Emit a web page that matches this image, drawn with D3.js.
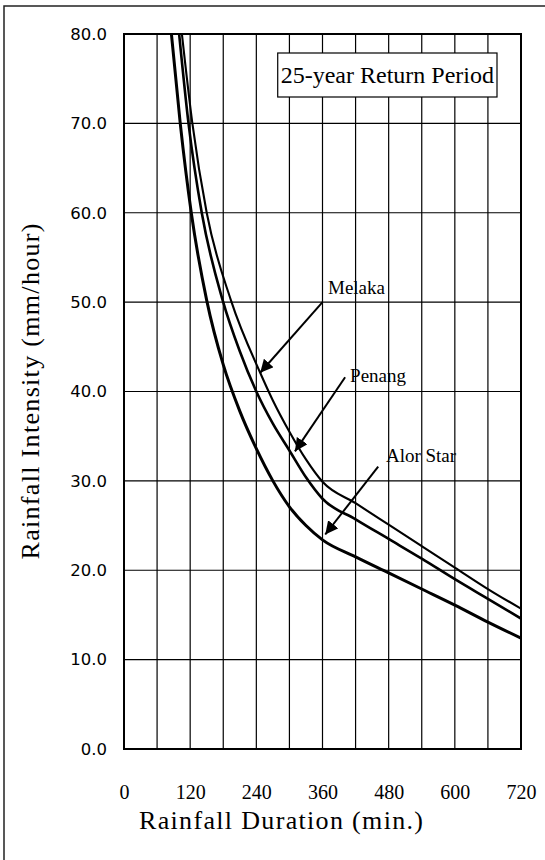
<!DOCTYPE html>
<html>
<head>
<meta charset="utf-8">
<script src="https://cdn.jsdelivr.net/npm/d3@7"></script>
<style>
  body { margin: 0; background: #fff; }
  text { fill: #000; }
</style>
</head>
<body>
<div id="chart"></div>
<script>
// values (duration in min, intensity in mm/hour)
var alorStarT = [86, 102, 122, 150, 180, 210, 240, 270, 300, 330, 360, 420, 480, 540, 600, 660, 720];
var alorStarI = [80, 70, 60, 50.2, 43.0, 37.8, 33.6, 30.0, 27.1, 25.0, 23.4, 21.5, 19.7, 17.9, 16.1, 14.2, 12.4];

var penangT = [100, 117, 141, 179, 210, 240, 270, 300, 330, 360, 420, 480, 540, 600, 660, 720];
var penangI = [80, 70, 60, 50.2, 44.5, 40.0, 36.4, 33.4, 30.4, 28.0, 25.7, 23.5, 21.3, 19.0, 16.8, 14.6];

var melakaT = [105, 124, 150, 194, 247, 270, 300, 330, 360, 420, 480, 540, 600, 660, 720];
var melakaI = [80, 70, 60, 50.2, 42.1, 39.0, 35.5, 32.4, 29.9, 27.5, 25.1, 22.7, 20.3, 17.9, 15.7];

var xTicks = [0, 120, 240, 360, 480, 600, 720];
var xGrid = [60, 120, 180, 240, 300, 360, 420, 480, 540, 600, 660];
var yTicks = [0, 10, 20, 30, 40, 50, 60, 70, 80];

// labels with arrows: text anchor / arrow tail, arrow head
var labelNames = ["Melaka", "Penang", "Alor Star"];
var labelT = [370, 410, 475];
var labelI = [51.7, 41.8, 32.9];
var tailT = [360, 401, 461];
var tailI = [50, 41.6, 31.6];
var headT = [247, 310, 365];
var headI = [42.1, 33.3, 24.0];

var width = 545, height = 860;
var margin = {top: 34, right: 24, bottom: 111, left: 124};

var svg = d3.select('#chart')
  .append('svg')
    .attr('width', width)
    .attr('height', height);

// outer frame (only top and left edges show in the scan)
svg.append('path')
  .attr('d', 'M4,' + height + 'V6H' + width)
  .attr('fill', 'none')
  .attr('stroke', '#222')
  .attr('stroke-width', 1.5);

var x = d3.scaleLinear().domain([0, 720]).range([margin.left, width - margin.right]);
var y = d3.scaleLinear().domain([0, 80]).range([height - margin.bottom, margin.top]);

var defs = svg.append('defs');
defs.append('clipPath').attr('id', 'plot-clip')
  .append('rect')
    .attr('x', x(0)).attr('y', y(80))
    .attr('width', x(720) - x(0)).attr('height', y(0) - y(80));
defs.append('marker')
    .attr('id', 'arrow')
    .attr('viewBox', '0 0 10 10')
    .attr('refX', 10).attr('refY', 5)
    .attr('markerWidth', 6.5).attr('markerHeight', 6.5)
    .attr('markerUnits', 'strokeWidth')
    .attr('orient', 'auto')
  .append('path')
    .attr('d', 'M0,0L10,5L0,10z')
    .attr('fill', '#000');

// grid
svg.append('g')
  .selectAll('line')
  .data(xGrid)
  .enter().append('line')
    .attr('x1', function(d) { return x(d); })
    .attr('x2', function(d) { return x(d); })
    .attr('y1', y(0)).attr('y2', y(80))
    .attr('stroke', '#000').attr('stroke-width', 1.2);

svg.append('g')
  .selectAll('line')
  .data(yTicks.slice(1, -1))
  .enter().append('line')
    .attr('x1', x(0)).attr('x2', x(720))
    .attr('y1', function(d) { return y(d); })
    .attr('y2', function(d) { return y(d); })
    .attr('stroke', '#000').attr('stroke-width', 1.2);

svg.append('rect')
  .attr('x', x(0)).attr('y', y(80))
  .attr('width', x(720) - x(0)).attr('height', y(0) - y(80))
  .attr('fill', 'none').attr('stroke', '#000').attr('stroke-width', 2);

// axes (labels only, the frame is drawn above)
var yAxis = svg.append('g')
  .attr('transform', 'translate(' + x(0) + ',0)')
  .call(d3.axisLeft(y).tickValues(yTicks).tickFormat(d3.format('.1f')).tickSize(0).tickPadding(17));
yAxis.select('.domain').remove();
yAxis.selectAll('text')
  .attr('font-family', '"DejaVu Sans", sans-serif')
  .attr('font-size', 16.5);

var xAxis = svg.append('g')
  .attr('transform', 'translate(0,' + y(0) + ')')
  .call(d3.axisBottom(x).tickValues(xTicks).tickSize(0).tickPadding(36));
xAxis.select('.domain').remove();
xAxis.selectAll('text')
  .attr('font-family', '"Liberation Serif", "Times New Roman", serif')
  .attr('font-size', 20);

// axis titles
svg.append('text')
  .attr('x', 281).attr('y', 829)
  .attr('text-anchor', 'middle')
  .attr('font-family', '"Liberation Serif", "Times New Roman", serif')
  .attr('font-size', 26)
  .attr('textLength', 284)
  .attr('lengthAdjust', 'spacing')
  .text('Rainfall Duration (min.)');

svg.append('text')
  .attr('transform', 'translate(39,' + ((y(0) + y(80)) / 2) + ') rotate(-90)')
  .attr('text-anchor', 'middle')
  .attr('font-family', '"Liberation Serif", "Times New Roman", serif')
  .attr('font-size', 26)
  .attr('textLength', 336)
  .attr('lengthAdjust', 'spacing')
  .text('Rainfall Intensity (mm/hour)');

// curves
var series = [
  {name: 'Alor Star', t: alorStarT, v: alorStarI, w: 3},
  {name: 'Penang', t: penangT, v: penangI, w: 2.6},
  {name: 'Melaka', t: melakaT, v: melakaI, w: 2.1}
];

var line = d3.line()
  .x(function(d) { return x(d[0]); })
  .y(function(d) { return y(d[1]); })
  .curve(d3.curveMonotoneX);

svg.append('g')
  .attr('clip-path', 'url(#plot-clip)')
  .selectAll('path')
  .data(series)
  .enter().append('path')
    .attr('d', function(s) { return line(d3.zip(s.t, s.v)); })
    .attr('fill', 'none')
    .attr('stroke', '#000')
    .attr('stroke-width', function(s) { return s.w; });

// labels and arrows
var notes = svg.append('g');
labelNames.forEach(function(name, i) {
  notes.append('line')
    .attr('x1', x(tailT[i])).attr('y1', y(tailI[i]))
    .attr('x2', x(headT[i])).attr('y2', y(headI[i]))
    .attr('stroke', '#000').attr('stroke-width', 2)
    .attr('marker-end', 'url(#arrow)');
  notes.append('text')
    .attr('x', x(labelT[i])).attr('y', y(labelI[i]))
    .attr('dy', '0.35em')
    .attr('font-family', '"Liberation Serif", "Times New Roman", serif')
    .attr('font-size', 19)
    .text(name);
});

// title box
var box = svg.append('g');
var boxText = box.append('text')
  .attr('x', x(720) - 27).attr('y', 83)
  .attr('text-anchor', 'end')
  .attr('font-family', '"Liberation Serif", "Times New Roman", serif')
  .attr('font-size', 24)
  .text('25-year Return Period');
var bb = boxText.node().getBBox();
box.insert('rect', 'text')
  .attr('x', bb.x - 3).attr('y', 53)
  .attr('width', bb.width + 6).attr('height', 44)
  .attr('fill', '#fff')
  .attr('stroke', '#000').attr('stroke-width', 1.2);
</script>
</body>
</html>
